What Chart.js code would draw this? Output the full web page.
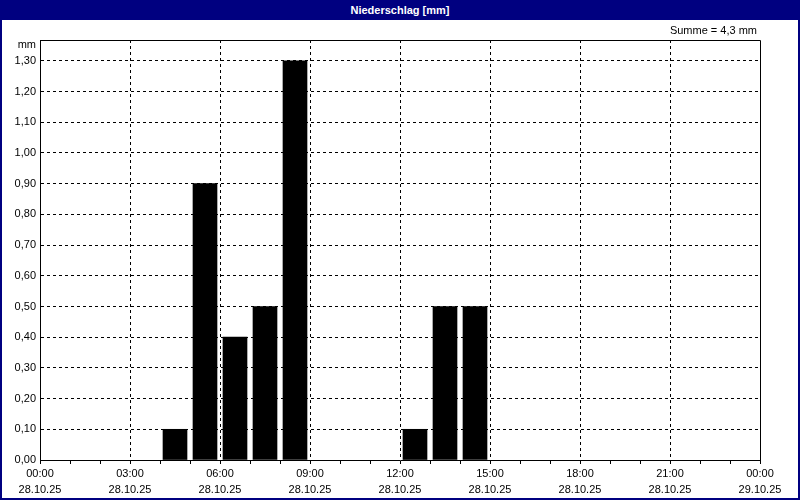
<!DOCTYPE html>
<html>
<head>
<meta charset="utf-8">
<script src="https://cdn.jsdelivr.net/npm/chart.js@4"></script>
<style>
  html, body { margin: 0; padding: 0; background: #fff; }
  #frame { width: 800px; height: 500px; box-sizing: border-box; border: 2px solid #000080; border-top: 0; background: #fff; }
  #head { height: 20px; background: #000080; color: #fff; font: bold 11px "Liberation Sans", Arial, sans-serif; text-align: center; line-height: 20px; }
  #wrap { position: relative; width: 796px; height: 478px; }
</style>
</head>
<body>
<div id="frame">
  <div id="head">Niederschlag [mm]</div>
  <div id="wrap"><canvas id="chart"></canvas></div>
</div>
<script>
// hourly precipitation, 28.10.25 (hour the bar starts)
const rainHours = [4, 5, 6, 7, 8, 12, 13, 14];
const rainMm = [0.1, 0.9, 0.4, 0.5, 1.3, 0.1, 0.5, 0.5];

// x tick labels every 3 hours
const tickTimes = ['00:00', '03:00', '06:00', '09:00', '12:00', '15:00', '18:00', '21:00', '00:00'];
const tickDates = ['28.10.25', '28.10.25', '28.10.25', '28.10.25', '28.10.25', '28.10.25', '28.10.25', '28.10.25', '29.10.25'];

const unit = 'mm';

Chart.defaults.font.family = '"Liberation Sans", Arial, sans-serif';
Chart.defaults.font.size = 11;
Chart.defaults.color = '#000';

const fmt = (v, d) => v.toFixed(d).replace('.', ',');
const total = rainMm.reduce((a, b) => a + b, 0);

// frame + small texts around the plot area
const extras = {
  id: 'extras',
  afterDraw(chart) {
    const { ctx, chartArea: a } = chart;
    ctx.save();
    ctx.strokeStyle = '#000';
    ctx.lineWidth = 1;
    ctx.beginPath();
    ctx.moveTo(Math.round(a.left) + 0.5, Math.round(a.top) + 0.5);
    ctx.lineTo(Math.round(a.right) + 0.5, Math.round(a.top) + 0.5);
    ctx.lineTo(Math.round(a.right) + 0.5, Math.round(a.bottom) + 0.5);
    ctx.stroke();

    ctx.fillStyle = '#000';
    ctx.font = '11px "Liberation Sans", Arial, sans-serif';
    ctx.textBaseline = 'middle';
    ctx.textAlign = 'right';
    ctx.fillText(unit, a.left - 4, a.top + 5);
    ctx.fillText('Summe = ' + fmt(total, 1) + ' ' + unit, a.right - 3, a.top - 9);
    ctx.restore();
  }
};

new Chart(document.getElementById('chart'), {
  type: 'bar',
  data: {
    datasets: [{
      label: 'Niederschlag',
      data: rainHours.map((h, i) => ({ x: h + 0.5, y: rainMm[i] })),
      backgroundColor: '#000',
      borderWidth: 0,
      barThickness: 24
    }]
  },
  options: {
    responsive: true,
    maintainAspectRatio: false,
    animation: false,
    layout: { padding: { top: 20, right: 38, left: 0, bottom: 0 } },
    plugins: { legend: { display: false }, tooltip: { enabled: false } },
    scales: {
      x: {
        type: 'linear',
        min: 0,
        max: 24,
        offset: false,
        afterFit: (s) => { s.height = 38; },
        ticks: {
          stepSize: 1,
          autoSkip: false,
          maxRotation: 0,
          padding: 2,
          font: { size: 11, lineHeight: '16px' },
          callback: (v) => (v % 3 === 0 ? [tickTimes[v / 3], tickDates[v / 3]] : '')
        },
        grid: {
          offset: false,
          color: (c) => (c.tick && c.tick.value % 3 === 0 && c.tick.value > 0 && c.tick.value < 24 ? '#000' : 'rgba(0,0,0,0)'),
          tickColor: '#000',
          tickLength: 4,
          lineWidth: 1
        },
        border: { display: true, color: '#000', width: 1, dash: [3, 3] }
      },
      y: {
        min: 0,
        max: 1.368,
        afterFit: (s) => { s.width = 38; },
        ticks: {
          stepSize: 0.1,
          includeBounds: false,
          padding: 4,
          callback: (v) => fmt(v, 2)
        },
        grid: { color: '#000', drawTicks: false, lineWidth: 1 },
        border: { display: true, color: '#000', width: 1, dash: [3, 3] }
      }
    }
  },
  plugins: [extras]
});
</script>
</body>
</html>
